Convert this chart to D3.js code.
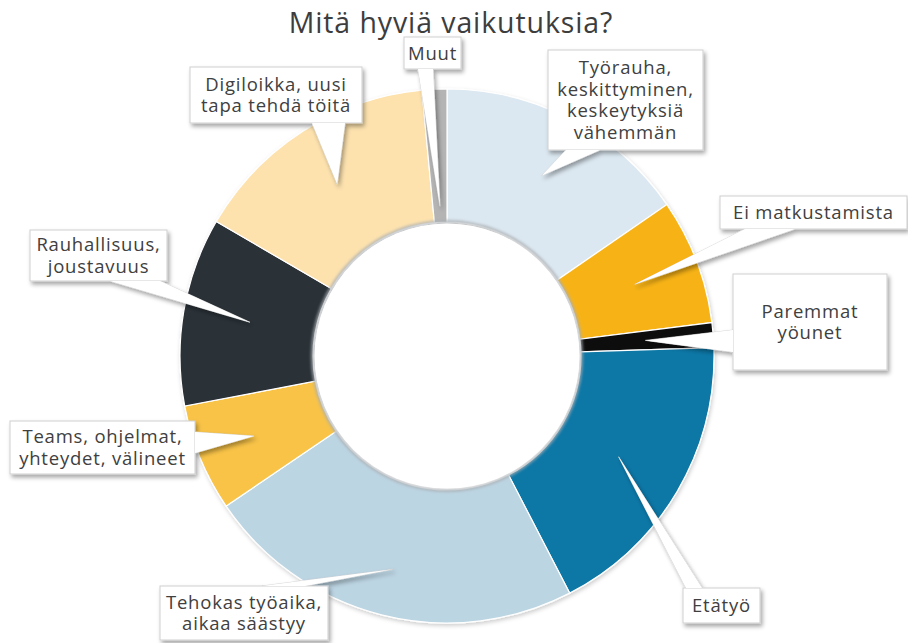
<!DOCTYPE html>
<html>
<head>
<meta charset="utf-8">
<script src="https://cdn.jsdelivr.net/npm/d3@7"></script>
<style>
  body { margin: 0; background: #fff; }
  svg text { font-family: "Open Sans", sans-serif; fill: #404040; }
</style>
</head>
<body>
<svg id="chart" width="908" height="643"></svg>
<script>
// slices clockwise from 12 o'clock
const categories = ["Työrauha", "Ei matkustamista", "Paremmat yöunet", "Etätyö", "Tehokas työaika",
  "Teams", "Rauhallisuus", "Digiloikka", "Muut"];
const values = [15.4, 7.6, 1.5, 17.9, 23.1, 6.5, 11.4, 15.1, 1.5];
const labelLines = [
  ["Työrauha,", "keskittyminen,", "keskeytyksiä", "vähemmän"],
  ["Ei matkustamista"],
  ["Paremmat", "yöunet"],
  ["Etätyö"],
  ["Tehokas työaika,", "aikaa säästyy"],
  ["Teams, ohjelmat,", "yhteydet, välineet"],
  ["Rauhallisuus,", "joustavuus"],
  ["Digiloikka, uusi", "tapa tehdä töitä"],
  ["Muut"]
];
const colors = ["#dce8f1", "#f7b319", "#111111", "#0b77a6", "#bcd5e3",
  "#f8c347", "#2b3137", "#fde2ae", "#b4b4b4"];
const title = "Mitä hyviä vaikutuksia?";

// callout boxes: box, base of the pointer on the box edge, radius of the pointer tip
const callouts = [
  { box: [548, 50, 155, 100], base: [[566, 150], [600, 150]], tipR: 204 },
  { box: [720, 196, 187, 33], base: [[745, 229], [795, 229]], tipR: 201 },
  { box: [733, 274, 154, 96], base: [[733, 330], [733, 352]], tipR: 199 },
  { box: [683, 588, 77, 35], base: [[686, 588], [702, 588]], tipR: 199 },
  { box: [160, 586, 168, 54], base: [[262, 586], [305, 586]], tipR: 220 },
  { box: [10, 421, 185, 53], base: [[195, 432], [195, 453]], tipR: 209 },
  { box: [30, 230, 137, 51], base: [[110, 281], [160, 281]], tipR: 200 },
  { box: [190, 67, 172, 56], base: [[312, 123], [345, 123]], tipR: 204 },
  { box: [404, 37, 57, 32], base: [[418, 69], [433, 69]], tipR: 150 }
];

const cx = 447, cy = 356, outerR = 267, innerR = 134;
const svg = d3.select("#chart");

const defs = svg.append("defs");
defs.append("filter").attr("id", "shadow")
  .attr("x", "-20%").attr("y", "-20%").attr("width", "150%").attr("height", "150%")
  .append("feDropShadow")
  .attr("dx", 2).attr("dy", 3).attr("stdDeviation", 2)
  .attr("flood-color", "#000").attr("flood-opacity", 0.35);
defs.append("filter").attr("id", "softshadow")
  .append("feDropShadow")
  .attr("dx", 1).attr("dy", 2).attr("stdDeviation", 2)
  .attr("flood-color", "#000").attr("flood-opacity", 0.2);
defs.append("filter").attr("id", "blur")
  .append("feGaussianBlur").attr("stdDeviation", 1.5);

svg.append("text")
  .attr("x", 451).attr("y", 33)
  .attr("text-anchor", "middle")
  .style("font-size", "28.5px")
  .style("letter-spacing", "0.9px")
  .style("fill", "#3d3d3d")
  .text(title);

const pie = d3.pie().sort(null).value(d => d);
const arcs = pie(values);
const arc = d3.arc().innerRadius(innerR).outerRadius(outerR);

const g = svg.append("g").attr("transform", `translate(${cx},${cy})`);

g.append("g").attr("filter", "url(#softshadow)")
  .selectAll("path")
  .data(arcs)
  .enter().append("path")
  .attr("d", arc)
  .attr("fill", (d, i) => colors[i])
  .attr("stroke", "#fff")
  .attr("stroke-width", 1.2);

// grey rim of the hole
g.append("circle")
  .attr("r", innerR + 0.5)
  .attr("fill", "none")
  .attr("stroke", "#a9aeb2")
  .attr("stroke-width", 2.5)
  .attr("filter", "url(#blur)");
g.append("circle")
  .attr("r", innerR - 1.5)
  .attr("fill", "#fff");

// callouts
const cg = svg.append("g");
arcs.forEach((d, i) => {
  const c = callouts[i];
  const t = d3.arc().innerRadius(c.tipR).outerRadius(c.tipR).centroid(d);
  const tip = [cx + t[0], cy + t[1]];
  const [bx, by, bw, bh] = c.box;
  const wedge = [c.base[0], c.base[1], tip];

  const grp = cg.append("g").attr("filter", "url(#shadow)");
  grp.append("polygon")
    .attr("points", wedge.map(p => p.join(",")).join(" "))
    .attr("fill", "#fff").attr("stroke", "#cfcfcf").attr("stroke-width", 0.8);
  grp.append("rect")
    .attr("x", bx).attr("y", by).attr("width", bw).attr("height", bh)
    .attr("fill", "#fff").attr("stroke", "#cfcfcf").attr("stroke-width", 1);
  grp.append("polygon")
    .attr("points", wedge.map(p => p.join(",")).join(" "))
    .attr("fill", "#fff");

  const lines = labelLines[i];
  const lh = 21.7;
  const y0 = by + bh / 2 - (lines.length - 1) * lh / 2 + 6.5;
  const txt = cg.append("text")
    .attr("text-anchor", "middle")
    .style("font-size", "18.5px")
    .style("letter-spacing", "0.8px");
  lines.forEach((l, k) => {
    txt.append("tspan").attr("x", bx + bw / 2).attr("y", y0 + k * lh).text(l);
  });
});
</script>
</body>
</html>
